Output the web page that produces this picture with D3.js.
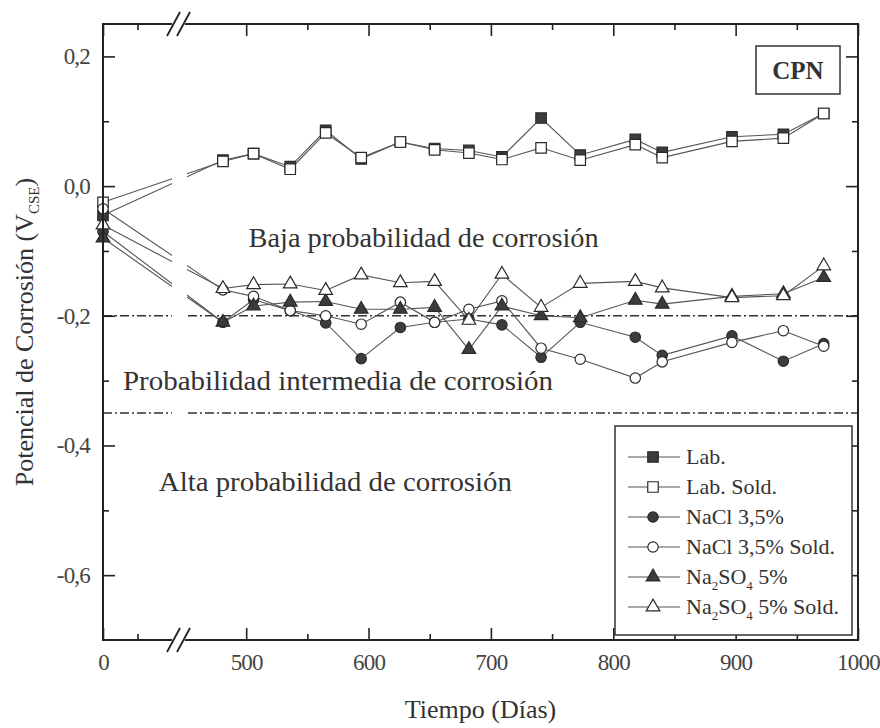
<!DOCTYPE html>
<html>
<head>
<meta charset="utf-8">
<script src="https://cdn.jsdelivr.net/npm/d3@7"></script>
<style>
  body { margin: 0; background: #fff; }
  svg text { font-family: "Liberation Serif", "DejaVu Serif", serif; fill: #333; }
  .axis path.domain { display: none; }
  .axis line { stroke: #222; stroke-width: 1.6; }
  .axis text { font-size: 23px; fill: #444; letter-spacing: -0.8px; }
</style>
</head>
<body>
<svg id="chart" width="880" height="728"></svg>
<script>

// tiempo (días) de cada medida
var days = [0, 481, 506, 536, 565, 594, 626, 654, 682, 709, 741, 773, 818, 840, 897, 939, 972];

var lab        = [-0.045, 0.040, 0.050, 0.030, 0.086, 0.042, 0.068, 0.058, 0.055, 0.045, 0.105, 0.048, 0.072, 0.052, 0.076, 0.080, 0.112];
var labSold    = [-0.025, 0.038, 0.050, 0.026, 0.082, 0.044, 0.068, 0.056, 0.051, 0.041, 0.059, 0.040, 0.064, 0.044, 0.069, 0.074, 0.112];
var nacl       = [-0.070, -0.210, -0.175, -0.192, -0.211, -0.266, -0.218, -0.210, -0.205, -0.214, -0.264, -0.210, -0.233, -0.261, -0.231, -0.270, -0.243];
var naclSold   = [-0.035, -0.160, -0.170, -0.192, -0.200, -0.213, -0.179, -0.210, -0.190, -0.177, -0.250, -0.267, -0.296, -0.271, -0.241, -0.223, -0.247];
var na2so4     = [-0.080, -0.210, -0.185, -0.179, -0.178, -0.190, -0.190, -0.187, -0.252, -0.185, -0.200, -0.203, -0.176, -0.182, -0.170, -0.166, -0.141];
var na2so4Sold = [-0.060, -0.158, -0.152, -0.151, -0.161, -0.137, -0.149, -0.147, -0.207, -0.136, -0.187, -0.150, -0.147, -0.157, -0.172, -0.169, -0.123];

var xMajor = [0, 500, 600, 700, 800, 900, 1000];
var xMinor = [50, 550, 650, 750, 850, 950];
var yMajor = [0.2, 0.0, -0.2, -0.4, -0.6];
var yMinor = [0.1, -0.1, -0.3, -0.5];
var thresholds = [-0.2, -0.35];

var zones = [
	{ text: 'Baja probabilidad de corrosión', day: 502, v: -0.094, len: 350 },
	{ text: 'Probabilidad intermedia de corrosión', day: 29, v: -0.315, len: 430 },
	{ text: 'Alta probabilidad de corrosión', day: 81, v: -0.47, len: 353 }
];

var series = [
	{ name: 'Lab.', values: lab, symbol: d3.symbolSquare, size: 110, filled: true },
	{ name: 'Lab. Sold.', values: labSold, symbol: d3.symbolSquare, size: 110, filled: false },
	{ name: 'NaCl 3,5%', values: nacl, symbol: d3.symbolCircle, size: 85, filled: true },
	{ name: 'NaCl 3,5% Sold.', values: naclSold, symbol: d3.symbolCircle, size: 85, filled: false },
	{ name: 'Na2SO4 5%', values: na2so4, symbol: d3.symbolTriangle, size: 80, filled: true },
	{ name: 'Na2SO4 5% Sold.', values: na2so4Sold, symbol: d3.symbolTriangle, size: 80, filled: false }
];

var svg = d3.select('#chart');

var pLeft = 103, pRight = 858, pTop = 24, pBottom = 640;

// eje x con corte: 0-100 a la izquierda, 450-1000 a la derecha
var x = d3.scaleLinear().domain([0, 100, 450, 1000]).range([pLeft, 172, 185, pRight]);
var y = d3.scaleLinear().domain([-0.7, 0.25]).range([pBottom, pTop]);

var fmt = function (d) { return d3.format('.1f')(d).replace('.', ',').replace('−', '-'); };

// lineas de umbral
svg.append('g').selectAll('line')
	.data(thresholds)
	.enter()
	.append('line')
	.attr('x1', pLeft).attr('x2', pRight)
	.attr('y1', function (d) { return y(d); })
	.attr('y2', function (d) { return y(d); })
	.attr('stroke', '#333')
	.attr('stroke-width', 1.6)
	.attr('stroke-dasharray', '9,3,2,3');

// series
var plot = svg.append('g');
series.forEach(function (s) {
	var pts = days.map(function (d, i) { return [d, s.values[i]]; });
	var line = d3.line()
		.x(function (d) { return x(d[0]); })
		.y(function (d) { return y(d[1]); });
	plot.append('path')
		.datum(pts)
		.attr('d', line)
		.attr('fill', 'none')
		.attr('stroke', '#555')
		.attr('stroke-width', 1.1);
});

// hueco del corte en las lineas
plot.append('rect')
	.attr('x', x(100)).attr('y', pTop + 2)
	.attr('width', x(450) - x(100) + 2)
	.attr('height', pBottom - pTop - 4)
	.attr('fill', '#fff');

series.forEach(function (s) {
	var sym = d3.symbol().type(s.symbol).size(s.size);
	plot.append('g').selectAll('path')
		.data(days.map(function (d, i) { return [d, s.values[i]]; }))
		.enter()
		.append('path')
		.attr('d', sym)
		.attr('transform', function (d) { return 'translate(' + x(d[0]) + ',' + y(d[1]) + ')'; })
		.attr('fill', s.filled ? '#3c3c3c' : '#fff')
		.attr('stroke', '#2a2a2a')
		.attr('stroke-width', 1.2);
});

// ejes
svg.append('g').attr('class', 'axis')
	.attr('transform', 'translate(0,' + pBottom + ')')
	.call(d3.axisBottom(x).tickValues(xMajor).tickSize(-12).tickPadding(14).tickFormat(d3.format('d')));
svg.append('g').attr('class', 'axis')
	.attr('transform', 'translate(0,' + pBottom + ')')
	.call(d3.axisBottom(x).tickValues(xMinor).tickSize(-6).tickFormat(''));
svg.append('g').attr('class', 'axis')
	.attr('transform', 'translate(0,' + pTop + ')')
	.call(d3.axisTop(x).tickValues(xMajor).tickSize(-12).tickFormat(''));
svg.append('g').attr('class', 'axis')
	.attr('transform', 'translate(0,' + pTop + ')')
	.call(d3.axisTop(x).tickValues(xMinor).tickSize(-6).tickFormat(''));

svg.append('g').attr('class', 'axis')
	.attr('transform', 'translate(' + pLeft + ',0)')
	.call(d3.axisLeft(y).tickValues(yMajor).tickSize(-12).tickPadding(13).tickFormat(fmt));
svg.append('g').attr('class', 'axis')
	.attr('transform', 'translate(' + pLeft + ',0)')
	.call(d3.axisLeft(y).tickValues(yMinor).tickSize(-6).tickFormat(''));
svg.append('g').attr('class', 'axis')
	.attr('transform', 'translate(' + pRight + ',0)')
	.call(d3.axisRight(y).tickValues(yMajor).tickSize(-12).tickFormat(''));
svg.append('g').attr('class', 'axis')
	.attr('transform', 'translate(' + pRight + ',0)')
	.call(d3.axisRight(y).tickValues(yMinor).tickSize(-6).tickFormat(''));

svg.append('rect')
	.attr('x', pLeft).attr('y', pTop)
	.attr('width', pRight - pLeft).attr('height', pBottom - pTop)
	.attr('fill', 'none')
	.attr('stroke', '#222')
	.attr('stroke-width', 2);

// marcas del corte //
var bx = (x(100) + x(450)) / 2;
[pTop, pBottom].forEach(function (cy) {
	svg.append('polygon')
		.attr('points', [[bx - 11.5, cy + 12], [bx - 1.5, cy - 12], [bx + 11.5, cy - 12], [bx + 1.5, cy + 12]].join(' '))
		.attr('fill', '#fff');
	[-5, 5].forEach(function (o) {
		svg.append('line')
			.attr('x1', bx + o - 6.5).attr('y1', cy + 12)
			.attr('x2', bx + o + 6.5).attr('y2', cy - 12)
			.attr('stroke', '#222')
			.attr('stroke-width', 1.8);
	});
});

// textos de zonas
svg.append('g').selectAll('text')
	.data(zones)
	.enter()
	.append('text')
	.attr('x', function (d) { return x(d.day); })
	.attr('y', function (d) { return y(d.v); })
	.attr('textLength', function (d) { return d.len; })
	.attr('lengthAdjust', 'spacingAndGlyphs')
	.style('font-size', '27px')
	.text(function (d) { return d.text; });

// caja CPN
svg.append('rect')
	.attr('x', 756).attr('y', 46).attr('width', 84).attr('height', 48)
	.attr('fill', '#fff').attr('stroke', '#333').attr('stroke-width', 1.5);
svg.append('text')
	.attr('x', 798).attr('y', 79)
	.attr('text-anchor', 'middle')
	.style('font-size', '25px').style('font-weight', 'bold')
	.text('CPN');

// leyenda
var legend = svg.append('g');
legend.append('rect')
	.attr('x', 615).attr('y', 426).attr('width', 237).attr('height', 209)
	.attr('fill', '#fff').attr('stroke', '#333').attr('stroke-width', 1.5);

series.forEach(function (s, i) {
	var ly = 457 + i * 30;
	var g = legend.append('g').attr('transform', 'translate(0,' + ly + ')');
	g.append('line')
		.attr('x1', 628).attr('x2', 680)
		.attr('y1', 0).attr('y2', 0)
		.attr('stroke', '#555').attr('stroke-width', 1.1);
	g.append('path')
		.attr('d', d3.symbol().type(s.symbol).size(s.size))
		.attr('transform', 'translate(653,0)')
		.attr('fill', s.filled ? '#3c3c3c' : '#fff')
		.attr('stroke', '#2a2a2a').attr('stroke-width', 1.2);
	var t = g.append('text')
		.attr('x', 686).attr('y', 7)
		.style('font-size', '22px');
	if (s.name.indexOf('Na2SO4') === 0) {
		t.append('tspan').text('Na');
		t.append('tspan').attr('dy', 6).style('font-size', '13px').text('2');
		t.append('tspan').attr('dy', -6).text('SO');
		t.append('tspan').attr('dy', 6).style('font-size', '13px').text('4');
		t.append('tspan').attr('dy', -6).text(s.name.replace('Na2SO4', ''));
	} else {
		t.text(s.name);
	}
});

// titulos de ejes
svg.append('text')
	.attr('x', (pLeft + pRight) / 2).attr('y', 718)
	.attr('text-anchor', 'middle')
	.style('font-size', '26px')
	.text('Tiempo (Días)');

var yt = svg.append('text')
	.attr('transform', 'translate(33,' + ((pTop + pBottom) / 2) + ') rotate(-90)')
	.attr('text-anchor', 'middle')
	.style('font-size', '26px');
yt.append('tspan').text('Potencial de Corrosión (V');
yt.append('tspan').attr('dy', 6).style('font-size', '15px').text('CSE');
yt.append('tspan').attr('dy', -6).text(')');

</script>
</body>
</html>
